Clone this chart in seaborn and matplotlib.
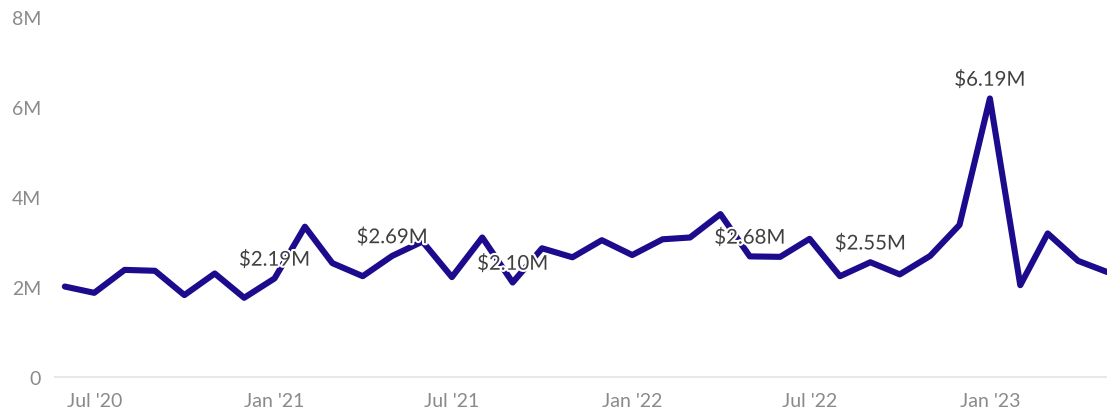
import matplotlib
matplotlib.use("Agg")
import matplotlib.pyplot as plt
import matplotlib.dates as mdates
import matplotlib.patheffects as pe
import seaborn as sns
import pandas as pd
import numpy as np

# ---- data ----
months = pd.date_range("2020-06-01", "2023-05-01", freq="MS")
revenue_m = [
    2.01, 1.87, 2.38, 2.36, 1.82, 2.30, 1.76,
    2.19, 3.34, 2.53, 2.24, 2.69, 3.01, 2.22, 3.10, 2.10, 2.86, 2.66, 3.04,
    2.71, 3.06, 3.10, 3.62, 2.68, 2.67, 3.07, 2.24, 2.55, 2.28, 2.69, 3.38,
    6.19, 2.04, 3.19, 2.58, 2.33,
]
label_months = ["2021-01-01", "2021-05-01", "2021-09-01", "2022-05-01", "2022-09-01", "2023-01-01"]
y_ticks = [0, 2, 4, 6, 8]
y_tick_labels = ["0", "2M", "4M", "6M", "8M"]

df = pd.DataFrame({"month": months, "revenue": np.array(revenue_m) * 1e6})

sns.set_theme(style="white")
plt.rcParams["font.family"] = ["Lato", "DejaVu Sans"]

fig = plt.figure(figsize=(11.07, 4.14), dpi=100)
ax = fig.add_axes([0.0497, 0.087, 0.9503, 0.8695])

sns.lineplot(data=df, x="month", y="revenue", ax=ax, color="#1c0b8c",
             linewidth=4.4, solid_joinstyle="round", solid_capstyle="round")

for lm in label_months:
    d = pd.Timestamp(lm)
    v = df.loc[df["month"] == d, "revenue"].iloc[0]
    ax.annotate(f"${v/1e6:.2f}M", xy=(d, v), xytext=(0, 13.5), textcoords="offset points",
                ha="center", va="center", fontsize=14.7, color="#404040",
                path_effects=[pe.withStroke(linewidth=3, foreground="white")], zorder=5)

ax.set_ylim(0, 8e6)
ax.set_yticks([t * 1e6 for t in y_ticks])
ax.set_yticklabels(y_tick_labels)
ax.set_xlim(pd.Timestamp("2020-05-22"), pd.Timestamp("2023-04-30") + pd.Timedelta(days=0.5))
ax.xaxis.set_major_locator(mdates.MonthLocator(bymonth=[1, 7]))
ax.xaxis.set_major_formatter(mdates.DateFormatter("%b '%y"))

ax.set_xlabel("")
ax.set_ylabel("")
for s in ["top", "right", "left"]:
    ax.spines[s].set_visible(False)
ax.spines["bottom"].set_color("#e8e8e8")
ax.spines["bottom"].set_linewidth(1.5)
ax.tick_params(axis="both", length=0, labelsize=14, colors="#8a8a8a")
ax.tick_params(axis="y", pad=10)
ax.tick_params(axis="x", pad=11)
ax.grid(False)

fig.savefig("out.png", dpi=100)
